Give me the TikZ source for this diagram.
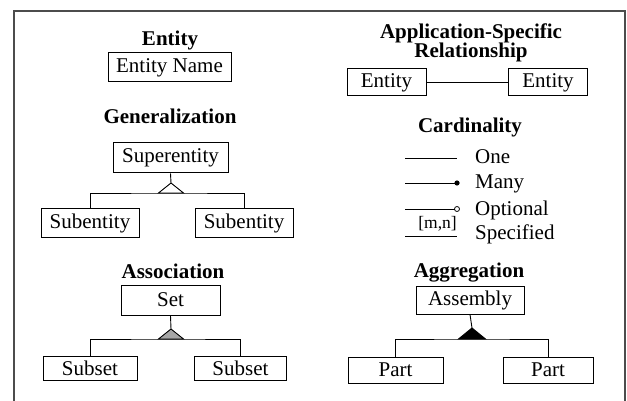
\documentclass[tikz,border=0pt]{standalone}
\usepackage{fontspec}
\setmainfont{Liberation Serif}
\usetikzlibrary{calc}

\begin{document}
\begin{tikzpicture}[x=1pt,y=-1pt,
	box/.style={draw,line width=1pt,inner sep=0pt,minimum height=28pt,font=\fontsize{21}{21}\selectfont},
	title/.style={anchor=base,align=center,font=\fontsize{21}{19.5}\selectfont\bfseries},
	lbl/.style={anchor=base west,font=\fontsize{21}{21}\selectfont},
	link/.style={line width=0.9pt}]
	\useasboundingbox (0,0) rectangle (627,401);
	\draw[line width=1.8pt,black!70] (14,410) -- (14,11) -- (625,11) -- (625,410);

	% entity
	\node[title] (enttitle) at (170,46) {Entity};
	\node[box,minimum width=123pt,minimum height=29pt] (entname) at (169.5,67.5) {Entity Name};

	% generalization
	\node[title] (gentitle) at (170,124) {Generalization};
	\node[box,minimum width=115pt,minimum height=30pt] (super) at (170.5,158) {Superentity};
	\node[box,minimum width=98pt] (gsubl) at (90,223) {Subentity};
	\node[box,minimum width=98pt] (gsubr) at (244,223) {Subentity};
	\coordinate (gtop) at (171,183);
	\coordinate (gbar) at (171,193);
	\draw[link] (super.south) -- (gtop);
	\draw[link,fill=white] (gtop) -- ++(-12.5,10) -- ++(25,0) -- cycle;
	\draw[link] (gsubl.north) |- (gbar) -| (gsubr.north);

	% association
	\node[title] (asstitle) at (173,278) {Association};
	\node[box,minimum width=99pt,minimum height=30pt] (set) at (170.5,300) {Set};
	\node[box,minimum width=94pt,minimum height=24pt] (subl) at (90,368) {Subset};
	\node[box,minimum width=92pt,minimum height=24pt] (subr) at (240.5,368) {Subset};
	\coordinate (atop) at (171,329);
	\coordinate (abar) at (171,339);
	\draw[link] (set.south) -- (atop);
	\draw[link,fill=black!35] (atop) -- ++(-12.5,10) -- ++(25,0) -- cycle;
	\draw[link] (subl.north) |- (abar) -| (subr.north);

	% application-specific relationship
	\node[title] (reltitle) at (471,58) {Application-Specific\\Relationship};
	\node[box,minimum width=79pt,minimum height=27pt] (entl) at (386.5,82.5) {Entity};
	\node[box,minimum width=79pt,minimum height=27pt] (entr) at (548,82.5) {Entity};
	\draw[link] (entl) -- (entr);

	% cardinality
	\node[title] (cardtitle) at (470,133) {Cardinality};
	\coordinate (onea) at (405,158); \coordinate (oneb) at (457,158);
	\coordinate (manya) at (405,183); \coordinate (manyb) at (457,183);
	\coordinate (opta) at (405,209); \coordinate (optb) at (457,209);
	\coordinate (speca) at (405,236); \coordinate (specb) at (457,236);
	\draw[link] (onea) -- (oneb);
	\draw[link] (manya) -- (manyb);
	\fill (manyb) circle (2.6);
	\draw[link] (opta) -- ($(optb)+(-2.5,0)$);
	\draw[line width=0.8pt] (optb) circle (2.5);
	\draw[link] (speca) -- (specb);
	\node[anchor=base east,inner sep=0pt,font=\fontsize{17.5}{17.5}\selectfont] (mn) at (457,229) {[m,n]};
	\node[lbl,inner sep=0pt] (one) at (475,164) {One};
	\node[lbl,inner sep=0pt] (many) at (475,189) {Many};
	\node[lbl,inner sep=0pt] (opt) at (475,215) {Optional};
	\node[lbl,inner sep=0pt] (spec) at (475,240) {Specified};

	% aggregation
	\node[title] (aggtitle) at (469,277) {Aggregation};
	\node[box,minimum width=108pt] (asm) at (470,300) {Assembly};
	\node[box,minimum width=95pt,minimum height=26pt] (partl) at (395.5,370) {Part};
	\node[box,minimum width=90pt,minimum height=26pt] (partr) at (548,370) {Part};
	\coordinate (gtop2) at (472,328);
	\coordinate (gbar2) at (472,339);
	\draw[link] (asm.south) -- (gtop2);
	\fill[draw,link] (gtop2) -- ++(-13.5,11) -- ++(27,0) -- cycle;
	\draw[link] (partl.north) |- (gbar2) -| (partr.north);
\end{tikzpicture}
\end{document}
